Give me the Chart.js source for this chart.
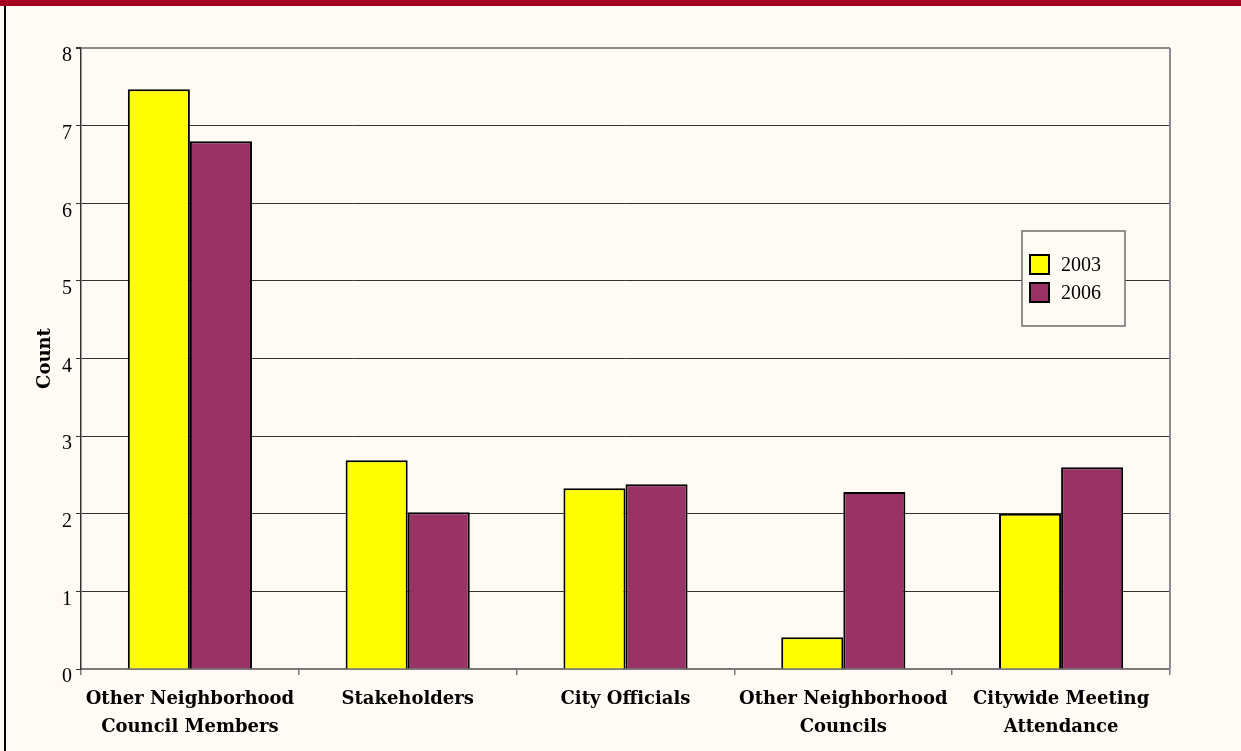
<!DOCTYPE html>
<html>
<head>
<meta charset="utf-8">
<script src="https://cdn.jsdelivr.net/npm/chart.js@4"></script>
<style>
  html, body { margin:0; padding:0; background:#fffaf3; }
  #wrap { position:relative; width:1241px; height:751px; overflow:hidden; }
  #topbar { position:absolute; left:0; top:0; width:1241px; height:6px; background:#a50021; }
  #leftbar { position:absolute; left:4px; top:6px; width:2px; height:745px; background:#000; }
  #c { position:absolute; left:0; top:0; }
</style>
</head>
<body>
<div id="wrap">
  <div id="topbar"></div>
  <div id="leftbar"></div>
  <canvas id="c" width="1241" height="751"></canvas>
</div>
<script>
// ── Data ─────────────────────────────────────────────
const categories = [
  ['Other Neighborhood', 'Council Members'],
  'Stakeholders',
  'City Officials',
  ['Other Neighborhood', 'Councils'],
  ['Citywide Meeting', 'Attendance']
];
const seriesNames = ['2003', '2006'];
const values2003 = [7.47, 2.69, 2.33, 0.41, 2.00];
const values2006 = [6.80, 2.02, 2.38, 2.28, 2.60];
const yTicks = [0, 1, 2, 3, 4, 5, 6, 7, 8];

const serif = "'Liberation Serif', 'Times New Roman', serif";
const wideSerif = "'DejaVu Serif', serif";

// ── Frame: right border + legend box ─────────────────
const framePlugin = {
  id: 'frame',
  afterDatasetsDraw(chart) {
    const { ctx, chartArea: a } = chart;
    ctx.save();
    ctx.strokeStyle = '#8c8c8c';
    ctx.lineWidth = 2;
    ctx.beginPath();
    ctx.moveTo(a.right, a.top);
    ctx.lineTo(a.right, a.bottom);
    ctx.stroke();

    // legend
    const lx = a.right - 148, ly = a.top + 183, lw = 103, lh = 95;
    ctx.fillStyle = '#fffaf3';
    ctx.fillRect(lx, ly, lw, lh);
    ctx.strokeStyle = '#6e6e6e';
    ctx.lineWidth = 1.5;
    ctx.strokeRect(lx, ly, lw, lh);
    ctx.font = '20px ' + serif;
    ctx.textBaseline = 'middle';
    chart.data.datasets.forEach((ds, i) => {
      const y = ly + 24 + i * 28;
      ctx.fillStyle = ds.backgroundColor;
      ctx.fillRect(lx + 8, y, 19, 19);
      ctx.strokeStyle = '#000';
      ctx.lineWidth = 2;
      ctx.strokeRect(lx + 8, y, 19, 19);
      ctx.fillStyle = '#000';
      ctx.fillText(ds.label, lx + 39, y + 11);
    });
    ctx.restore();
  }
};

new Chart(document.getElementById('c'), {
  type: 'bar',
  data: {
    labels: categories,
    datasets: [
      { label: seriesNames[0], data: values2003, backgroundColor: '#ffff00',
        borderColor: '#000', borderWidth: 2, categoryPercentage: 0.57, barPercentage: 1 },
      { label: seriesNames[1], data: values2006, backgroundColor: '#993366',
        borderColor: '#000', borderWidth: 2, categoryPercentage: 0.57, barPercentage: 1 }
    ]
  },
  options: {
    responsive: false,
    animation: false,
    layout: { padding: { left: 0, top: 48, right: 71, bottom: 0 } },
    plugins: { legend: { display: false }, tooltip: { enabled: false } },
    scales: {
      x: {
        grid: { offset: true, drawOnChartArea: false, drawTicks: true, tickLength: 6,
                color: '#7a7a7a', lineWidth: 1.5 },
        border: { color: '#7a7a7a', width: 2 },
        ticks: { color: '#000', padding: 10, maxRotation: 0, autoSkip: false,
                 font: { family: wideSerif, size: 18, weight: 'bold', lineHeight: 1.55 } },
        afterFit: s => { s.height = 82; }
      },
      y: {
        min: 0, max: 8,
        afterBuildTicks: s => { s.ticks = yTicks.map(v => ({ value: v })); },
        grid: { color: ctx => ctx.tick && ctx.tick.value === 8 ? '#8c8c8c' : '#333',
                lineWidth: ctx => ctx.tick && ctx.tick.value === 8 ? 2 : 1,
                tickLength: 5, tickColor: '#333' },
        border: { color: '#333', width: 1.5 },
        ticks: { color: '#000', padding: 4, labelOffset: 8, font: { family: serif, size: 20 } },
        title: { display: true, text: 'Count', color: '#000', padding: { top: 35, bottom: 0 },
                 font: { family: wideSerif, size: 18, weight: 'bold' } },
        afterFit: s => { s.width = 81; }
      }
    }
  },
  plugins: [framePlugin]
});
</script>
</body>
</html>
